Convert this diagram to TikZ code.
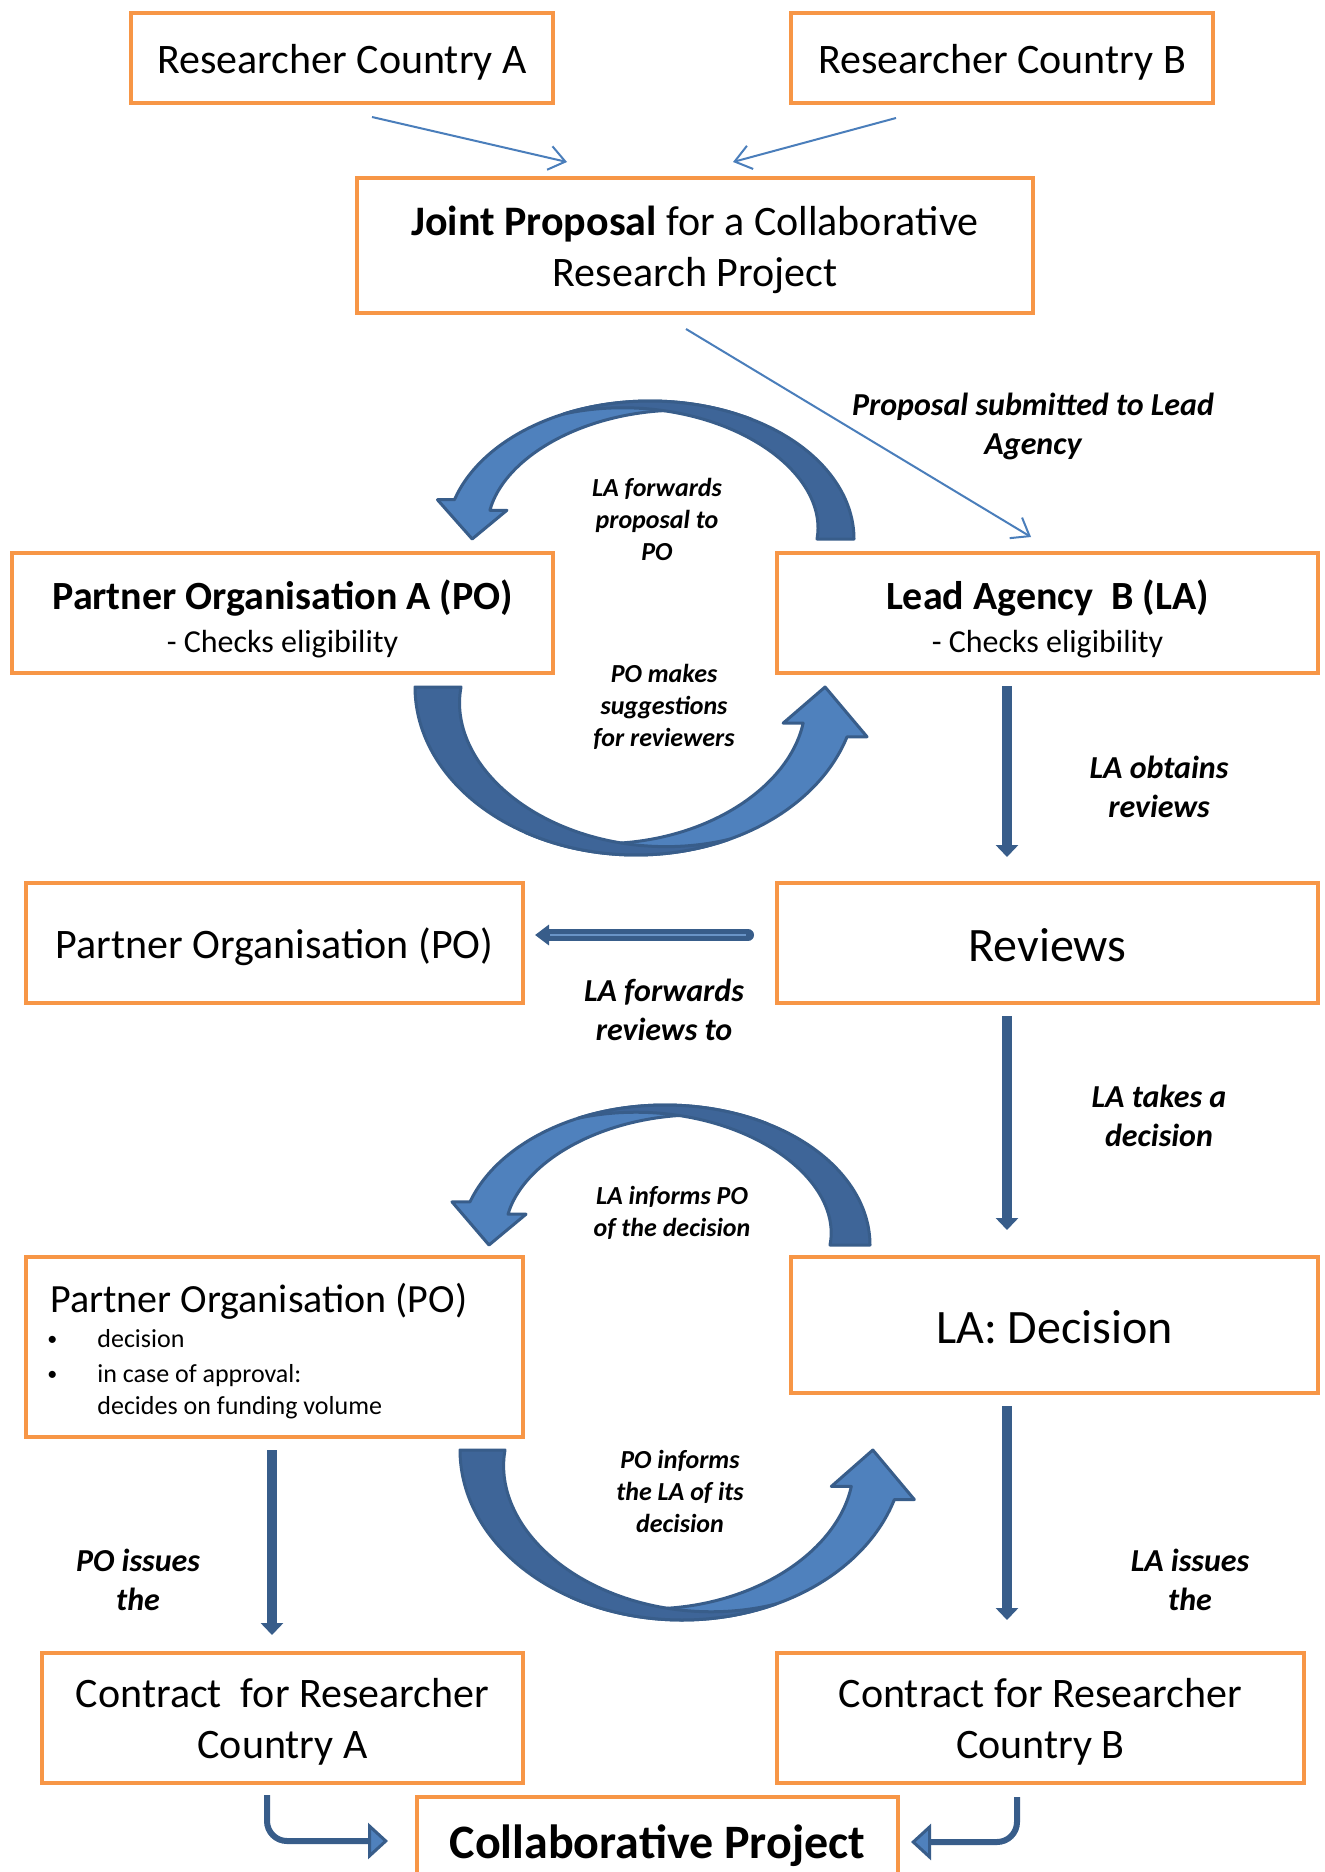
\documentclass[tikz,border=0pt]{standalone}
\usepackage{fontspec}
\setmainfont{Carlito}
\usetikzlibrary{arrows.meta}
\definecolor{orng}{HTML}{F79646}
\definecolor{blu}{HTML}{4F81BD}
\definecolor{bdark}{HTML}{3E6598}
\definecolor{bline}{HTML}{385D8A}
\definecolor{thinc}{HTML}{4A7EBB}
\tikzset{
 box/.style={draw=orng, line width=2.2pt, inner sep=0pt},
 boxtext/.style={inner sep=0pt, align=center, font=\fontsize{21}{25.6}\selectfont},
 lbl/.style={align=center, inner sep=0pt, font=\fontsize{16}{19.5}\selectfont\bfseries\itshape},
 slbl/.style={align=center, inner sep=0pt, font=\fontsize{13}{16}\selectfont\bfseries\itshape},
 potxt/.style={anchor=base west, inner sep=0pt, font=\fontsize{13}{16}\selectfont},
 bullet/.style={anchor=base west, inner sep=0pt, font=\fontsize{10}{12}\selectfont},
 thinarr/.style={draw=thinc, line width=1pt, -{Straight Barb[length=8pt,width=12pt]}},
 vthick/.style={draw=bline, line width=5pt, -{Triangle[length=6pt,width=11pt]}},
 lightband/.style={fill=blu, draw=bline, line width=1.5pt, line join=round},
 darkband/.style={fill=bdark, draw=bline, line width=1.5pt, line join=round},
 bent/.style={draw=bline, line width=3pt, rounded corners=10pt, -{Triangle[length=10pt,width=18pt,fill=blu,line width=1.5pt]}},
}
% optional #1 text shift, #2 name, #3..#6 corners (px), #7 text
\newcommand{\bx}[7][-2pt]{%
 \node[box, minimum width={(#5-#3)*0.5pt}, minimum height={(#6-#4)*0.5pt}] (#2) at ({(#3+#5)/2},{(#4+#6)/2}) {};
 \node[boxtext] (#2txt) at ([yshift=#1]#2.center) {#7};}
% #1 centre, #2 rotation, #3 outer x radius, #4 outer y radius, #5 shaft width, #6 head length, #7 head overhang
\newcommand{\curvarrow}[7]{%
 \begin{scope}[shift={#1}, rotate=#2]
  \pgfmathsetmacro{\cvte}{180-asin(#6/(#4-#5/2))}
  \pgfmathsetmacro{\cvox}{#3*cos(\cvte)}
  \pgfmathsetmacro{\cvoy}{-#4*sin(\cvte)}
  \pgfmathsetmacro{\cvix}{(#3-#5)*cos(\cvte)}
  \pgfmathsetmacro{\cviy}{-(#4-#5)*sin(\cvte)}
  \pgfmathsetmacro{\cvtx}{(\cvox+\cvix)/2}
  \filldraw[lightband] plot[domain=60:\cvte, samples=40, smooth] ({#3*cos(\x)},{-#4*sin(\x)})
     -- ({\cvox-#7},\cvoy) -- (\cvtx,0) -- ({\cvix+#7},\cviy) -- (\cvix,\cviy)
     -- plot[domain=\cvte:60, samples=40, smooth] ({(#3-#5*(\x-60)/(\cvte-60))*cos(\x)},{-(#4-#5*(\x-60)/(\cvte-60))*sin(\x)}) -- cycle;
  \filldraw[darkband] plot[domain=0:115, samples=40, smooth] ({#3*cos(\x)},{-#4*sin(\x)})
     -- plot[domain=115:0, samples=40, smooth] ({(#3-#5*(1-\x/115))*cos(\x)},{-(#4-#5*(1-\x/115))*sin(\x)}) -- cycle;
 \end{scope}}
\begin{document}
\begin{tikzpicture}[x=0.5pt,y=-0.5pt]
\useasboundingbox (0,0) rectangle (1325,1872);
\clip (0,0) rectangle (1325,1872);
\fill[white] (0,0) rectangle (1325,1872);

% curved arrows
\curvarrow{(650,539)}{0}{204}{138}{37}{34}{17}
\curvarrow{(636,687)}{180}{221}{168}{46}{43}{20}
\curvarrow{(665,1245)}{0}{205}{140}{40}{37}{18}
\curvarrow{(682,1450)}{180}{222}{170}{45}{43}{20}

% boxes
\bx{rca}{131}{13}{553}{103}{Researcher Country A}
\bx{rcb}{791}{13}{1213}{103}{Researcher Country B}
\bx{jp}{357}{178}{1033}{313}{\textbf{Joint Proposal} for a Collaborative\\Research Project}
\bx[-3pt]{poa}{12}{553}{553}{673}{{\fontsize{20}{24}\selectfont\bfseries Partner Organisation A (PO)}\\[-4.5pt]{\fontsize{16}{19}\selectfont - Checks eligibility}}
\bx[-3pt]{lab}{777}{553}{1318}{673}{{\fontsize{20}{24}\selectfont\bfseries Lead Agency~ B (LA)}\\[-4.5pt]{\fontsize{16}{19}\selectfont - Checks eligibility}}
\bx{pom}{26}{883}{523}{1003}{Partner Organisation (PO)}
\bx[-1pt]{rev}{777}{883}{1318}{1003}{\fontsize{24}{29}\selectfont Reviews}
\bx[0pt]{pob}{26}{1257}{523}{1437}{}
\bx[-1pt]{lad}{791}{1257}{1318}{1393}{\fontsize{24}{29}\selectfont LA: Decision}
\bx{ca}{42}{1653}{523}{1783}{Contract~ for Researcher\\Country A}
\bx{cb}{777}{1653}{1304}{1783}{Contract for Researcher\\Country B}
\bx{cp}{417}{1797}{898}{1886}{\fontsize{24}{29}\selectfont\bfseries Collaborative Project}

% text inside lower-left PO box
\node[anchor=base west, inner sep=0pt, font=\fontsize{20}{24}\selectfont] (pot) at (50,1312) {Partner Organisation (PO)};
\node[bullet] (pb1) at (47,1345) {•};
\node[potxt] (pt1) at (97,1347) {decision};
\node[bullet] (pb2) at (47,1380) {•};
\node[potxt] (pt2) at (97,1382) {in case of approval:};
\node[potxt] (pt3) at (97,1414) {decides on funding volume};

% thin arrows
\coordinate (t1s) at (372,117); \coordinate (t1e) at (567,162);
\coordinate (t2s) at (896,118); \coordinate (t2e) at (733,162);
\coordinate (t3s) at (686,329); \coordinate (t3e) at (1031,537);
\draw[thinarr] (t1s) -- (t1e);
\draw[thinarr] (t2s) -- (t2e);
\draw[thinarr] (t3s) -- (t3e);

% thick vertical arrows
\coordinate (v1s) at (1007,686);  \coordinate (v1e) at (1007,857);
\coordinate (v2s) at (1007,1016); \coordinate (v2e) at (1007,1230);
\coordinate (v3s) at (272,1450);  \coordinate (v3e) at (272,1635);
\coordinate (v4s) at (1007,1406); \coordinate (v4e) at (1007,1620);
\draw[vthick] (v1s) -- (v1e);
\draw[vthick] (v2s) -- (v2e);
\draw[vthick] (v3s) -- (v3e);
\draw[vthick] (v4s) -- (v4e);

% horizontal arrow Reviews -> PO
\coordinate (hs) at (748,935); \coordinate (he) at (535,935);
\draw[draw=bline, line width=6pt, line cap=round, -{Triangle[length=7pt,width=10pt]}] (hs) -- (he);
\coordinate (hls) at (746,935); \coordinate (hle) at (550,935);
\draw[blu!85!white, line width=1.2pt] (hls) -- (hle);

% bent arrows to collaborative project
\coordinate (b1s) at (267,1795); \coordinate (b1e) at (388,1841);
\coordinate (b2s) at (1017,1797); \coordinate (b2e) at (911,1842);
\draw[bent] (b1s) |- (b1e);
\draw[bent] (b2s) |- (b2e);

% labels
\node[lbl] (l1) at (1033,426) {Proposal submitted to Lead\\Agency};
\node[slbl] (l2) at (657,519) {LA forwards\\proposal to\\PO};
\node[slbl] (l3) at (664,707) {PO makes\\suggestions\\for reviewers};
\node[lbl] (l4) at (1159,787) {LA obtains\\reviews};
\node[lbl] (l5) at (664,1010) {LA forwards\\reviews to};
\node[lbl] (l6) at (1159,1116) {LA takes a\\decision};
\node[slbl] (l7) at (672,1213) {LA informs PO\\of the decision};
\node[slbl] (l8) at (680,1491) {PO informs\\the LA of its\\decision};
\node[lbl] (l9) at (138,1580) {PO issues\\the};
\node[lbl] (l10) at (1190,1580) {LA issues\\the};
\end{tikzpicture}
\end{document}
